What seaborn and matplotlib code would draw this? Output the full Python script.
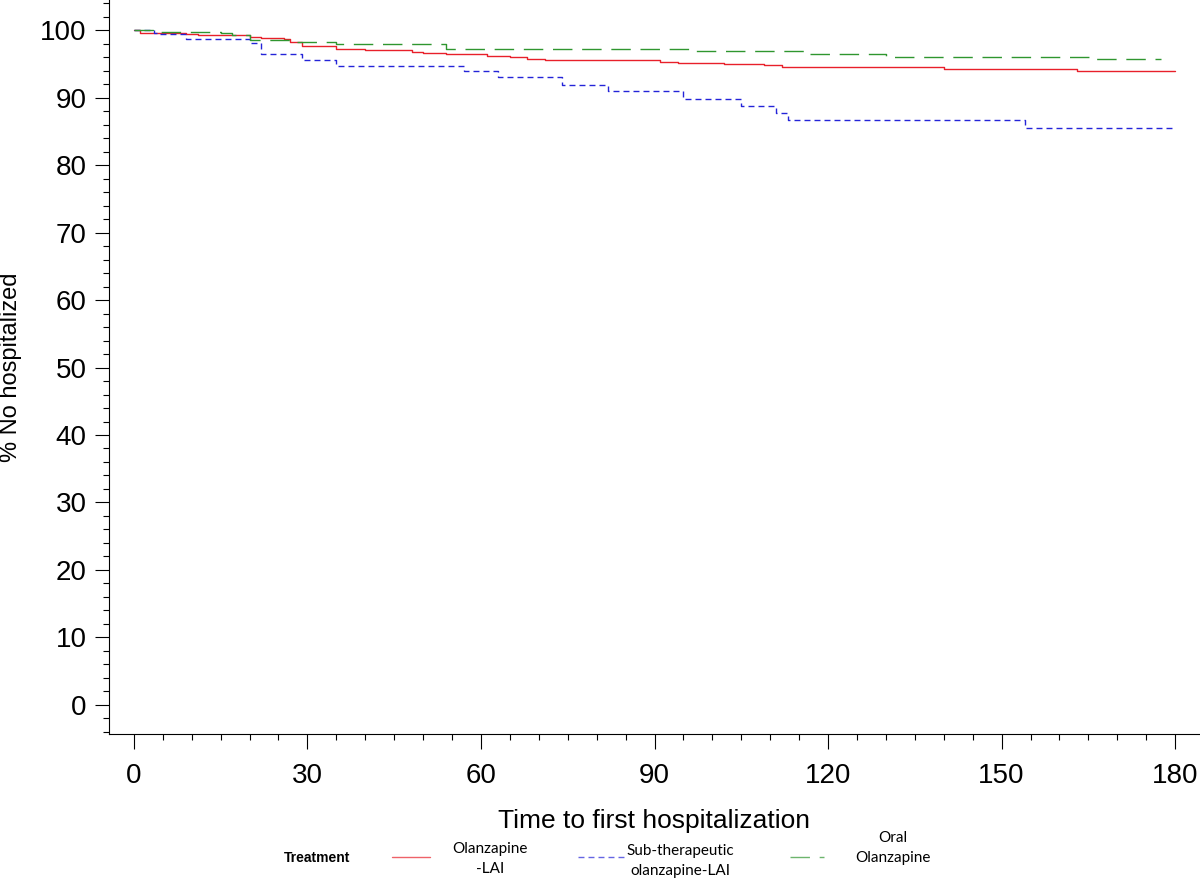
import matplotlib
matplotlib.use("Agg")
import matplotlib.pyplot as plt
import numpy as np
import pandas as pd
import seaborn as sns
from matplotlib.lines import Line2D
from matplotlib.ticker import MultipleLocator

# Kaplan-Meier style step curves (day, % not hospitalized)
lai_days = [0, 1, 9, 11, 15, 20, 22, 26, 27, 29, 35, 40, 48, 50, 54, 61, 65, 68, 71,
            91, 94, 102, 109, 112, 140, 163, 180]
lai_pct = [100, 99.6, 99.45, 99.3, 99.2, 99.0, 98.8, 98.6, 98.2, 97.6, 97.2, 97.0, 96.8,
           96.6, 96.4, 96.1, 96.0, 95.75, 95.5, 95.3, 95.1, 94.95, 94.8, 94.5, 94.3, 94.0, 94.0]

sub_days = [0, 3.5, 4, 9, 20, 22, 29, 35, 57, 63, 74, 82, 95, 105, 111, 113, 154, 180]
sub_pct = [100, 99.6, 99.4, 98.7, 98.1, 96.4, 95.6, 94.7, 94.0, 93.0, 91.9, 90.9, 89.8,
           88.7, 87.7, 86.6, 85.5, 85.5]

oral_days = [0, 3.3, 15, 17, 20, 27.4, 35, 54, 97, 116, 130, 166, 177.5]
oral_pct = [100, 99.75, 99.5, 99.2, 98.5, 98.2, 97.9, 97.2, 96.9, 96.5, 96.05, 95.7, 95.7]

groups = ["Olanzapine-LAI", "Sub-therapeutic olanzapine-LAI", "Oral Olanzapine"]
legend_labels = ["Olanzapine\n-LAI", "Sub-therapeutic\nolanzapine-LAI", "Oral\nOlanzapine"]
x_ticks = [0, 30, 60, 90, 120, 150, 180]
y_ticks = list(range(0, 101, 10))


def main():
    sns.set_theme(style="ticks")
    plt.rcParams["font.family"] = ["Liberation Sans Narrow", "Liberation Sans", "DejaVu Sans"]
    plt.rcParams.update({"text.color": "black", "axes.labelcolor": "black",
                         "xtick.color": "black", "ytick.color": "black"})

    df = pd.concat([
        pd.DataFrame({"day": lai_days, "pct": lai_pct, "group": groups[0]}),
        pd.DataFrame({"day": sub_days, "pct": sub_pct, "group": groups[1]}),
        pd.DataFrame({"day": oral_days, "pct": oral_pct, "group": groups[2]}),
    ])

    colors = {groups[0]: "#E8202A", groups[1]: "#2424D8", groups[2]: "#2F962F"}
    dashes = {groups[0]: "", groups[1]: (4.3, 2.9), groups[2]: (14, 7)}

    fig = plt.figure(figsize=(12, 8.85), dpi=100)
    ax = fig.add_axes([109 / 1200, 1 - 734 / 885, 1 - 109 / 1200, 734 / 885])

    sns.lineplot(data=df, x="day", y="pct", hue="group", style="group", palette=colors,
                 dashes=dashes, drawstyle="steps-post", estimator=None, sort=False,
                 linewidth=1.0, legend=False, ax=ax)

    ax.set_xlim(-4.3, 184.3)
    ax.set_ylim(-4.3, 104.45)
    ax.set_xticks(x_ticks)
    ax.set_yticks(y_ticks)
    ax.xaxis.set_minor_locator(MultipleLocator(5))
    ax.yaxis.set_minor_locator(MultipleLocator(2))
    ax.tick_params(axis="both", which="major", labelsize=20, width=0.8)
    ax.tick_params(axis="x", which="major", length=11, pad=10)
    ax.tick_params(axis="y", which="major", length=10, pad=6)
    ax.tick_params(axis="both", which="minor", length=4, width=0.8)

    ax.set_xlabel("Time to first hospitalization", fontsize=19, labelpad=14)
    ax.set_ylabel("% No hospitalized", fontsize=17, labelpad=13)

    sns.despine(ax=ax)
    for side in ["left", "bottom"]:
        ax.spines[side].set_color("black")
        ax.spines[side].set_linewidth(0.8)

    # legend strip along the bottom
    def fy(px):
        return 1 - px / 885

    fig.text(317 / 1200, fy(858), "Treatment", fontsize=10, fontweight="bold",
             ha="center", va="center")
    key_x = [(392, 430), (578, 624), (790, 824)]
    text_x = [490, 680, 893]
    text_y = [859, 861, 848]
    legend_font = ["Lato", "DejaVu Sans"]
    for g, lab, (x0, x1), tx, ty in zip(groups, legend_labels, key_x, text_x, text_y):
        dash = dashes[g]
        ln = Line2D([x0 / 1200, x1 / 1200], [fy(857), fy(857)], transform=fig.transFigure,
                    color=colors[g], linewidth=1.0, alpha=0.7)
        if dash:
            ln.set_dashes(dash)
        fig.add_artist(ln)
        fig.text(tx / 1200, fy(ty), lab, fontsize=11, family=legend_font,
                 ha="center", va="center", linespacing=1.5)

    fig.savefig("out.png", dpi=100)
    plt.close(fig)


if __name__ == "__main__":
    main()
